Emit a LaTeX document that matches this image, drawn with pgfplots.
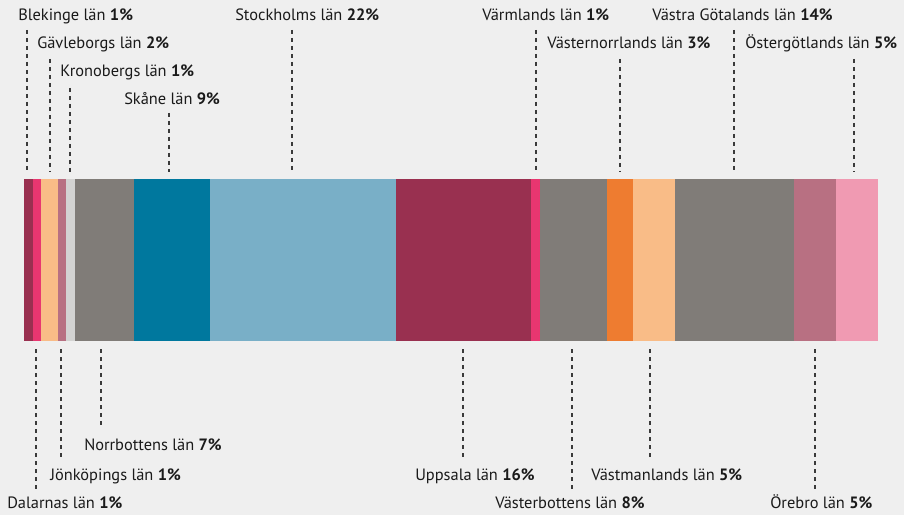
\documentclass[border=0pt]{standalone}
\usepackage{fontspec}
\setmainfont{PT Sans}
\usepackage{pgfplots}
\pgfplotsset{compat=1.18}

\definecolor{bgcol}{HTML}{EFEFEF}
\definecolor{darkred}{HTML}{993050}
\definecolor{pinkc}{HTML}{E83670}
\definecolor{peach}{HTML}{F9BC87}
\definecolor{mauve}{HTML}{B87082}
\definecolor{lgrey}{HTML}{D3D3D2}
\definecolor{greyc}{HTML}{807C78}
\definecolor{tealc}{HTML}{00789E}
\definecolor{lblue}{HTML}{79AFC7}
\definecolor{orangec}{HTML}{EE7C30}
\definecolor{lpink}{HTML}{F09AB2}
\definecolor{txt}{HTML}{1A1A1A}
\definecolor{lead}{HTML}{3A3A3A}

\tikzset{lbl/.style={font=\fontsize{12.3}{14}\selectfont, text=txt, inner sep=0pt, anchor=base west}}

\begin{document}
\begin{tikzpicture}
\fill[bgcol] (0,0) rectangle (678pt,386.25pt);
\begin{axis}[
    at={(0,0)}, anchor=south west,
    scale only axis,
    width=678pt, height=386.25pt,
    xmin=-2.8103, xmax=103.044,
    ymin=0, ymax=515,
    axis lines=none,
    xbar stacked,
    bar width=162,
    clip=false,
]
% shares per county (percent), left to right
\addplot[fill=darkred, draw=none] coordinates {(1.05,255)};  % Blekinge
\addplot[fill=pinkc, draw=none] coordinates {(0.94,255)};    % Dalarnas
\addplot[fill=peach, draw=none] coordinates {(1.99,255)};    % Gävleborgs
\addplot[fill=mauve, draw=none] coordinates {(0.94,255)};    % Jönköpings
\addplot[fill=lgrey, draw=none] coordinates {(1.05,255)};    % Kronobergs
\addplot[fill=greyc, draw=none] coordinates {(6.91,255)};    % Norrbottens
\addplot[fill=tealc, draw=none] coordinates {(8.90,255)};    % Skåne
\addplot[fill=lblue, draw=none] coordinates {(21.78,255)};   % Stockholms
\addplot[fill=darkred, draw=none] coordinates {(15.81,255)}; % Uppsala
\addplot[fill=pinkc, draw=none] coordinates {(1.05,255)};    % Värmlands
\addplot[fill=greyc, draw=none] coordinates {(7.85,255)};    % Västerbottens
\addplot[fill=orangec, draw=none] coordinates {(3.04,255)};  % Västernorrlands
\addplot[fill=peach, draw=none] coordinates {(4.92,255)};    % Västmanlands
\addplot[fill=greyc, draw=none] coordinates {(13.93,255)};   % Västra Götalands
\addplot[fill=mauve, draw=none] coordinates {(4.92,255)};    % Örebro
\addplot[fill=lpink, draw=none] coordinates {(4.92,255)};    % Östergötlands

% leader lines
\draw[lead, line width=0.85pt, dash pattern=on 3pt off 3pt]
    (axis cs:0.351,485) -- (axis cs:0.351,343)
    (axis cs:3.044,456) -- (axis cs:3.044,343)
    (axis cs:5.386,427) -- (axis cs:5.386,343)
    (axis cs:16.979,402) -- (axis cs:16.979,343)
    (axis cs:31.382,485) -- (axis cs:31.382,343)
    (axis cs:59.953,485) -- (axis cs:59.953,343)
    (axis cs:69.789,456) -- (axis cs:69.789,343)
    (axis cs:83.138,485) -- (axis cs:83.138,343)
    (axis cs:97.190,456) -- (axis cs:97.190,343)
    (axis cs:1.405,166) -- (axis cs:1.405,25)
    (axis cs:4.333,166) -- (axis cs:4.333,56)
    (axis cs:9.016,166) -- (axis cs:9.016,87)
    (axis cs:51.405,166) -- (axis cs:51.405,56)
    (axis cs:64.169,166) -- (axis cs:64.169,25)
    (axis cs:73.302,166) -- (axis cs:73.302,56)
    (axis cs:92.623,166) -- (axis cs:92.623,25);

% labels above
\node[lbl] at (axis cs:-0.703,494) {Blekinge län \textbf{1\%}};
\node[lbl] at (axis cs:1.522,466) {Gävleborgs län \textbf{2\%}};
\node[lbl] at (axis cs:4.215,438) {Kronobergs län \textbf{1\%}};
\node[lbl] at (axis cs:11.710,410) {Skåne län \textbf{9\%}};
\node[lbl] at (axis cs:24.707,494) {Stockholms län \textbf{22\%}};
\node[lbl] at (axis cs:53.630,494) {Värmlands län \textbf{1\%}};
\node[lbl] at (axis cs:61.241,466) {Västernorrlands län \textbf{3\%}};
\node[lbl] at (axis cs:73.536,494) {Västra Götalands län \textbf{14\%}};
\node[lbl] at (axis cs:84.426,466) {Östergötlands län \textbf{5\%}};
% labels below
\node[lbl] at (axis cs:7.026,65) {Norrbottens län \textbf{7\%}};
\node[lbl] at (axis cs:3.044,35) {Jönköpings län \textbf{1\%}};
\node[lbl] at (axis cs:-1.991,7) {Dalarnas län \textbf{1\%}};
\node[lbl] at (axis cs:45.785,35) {Uppsala län \textbf{16\%}};
\node[lbl] at (axis cs:55.152,7) {Västerbottens län \textbf{8\%}};
\node[lbl] at (axis cs:66.393,35) {Västmanlands län \textbf{5\%}};
\node[lbl] at (axis cs:87.354,7) {Örebro län \textbf{5\%}};
\end{axis}
\end{tikzpicture}
\end{document}
